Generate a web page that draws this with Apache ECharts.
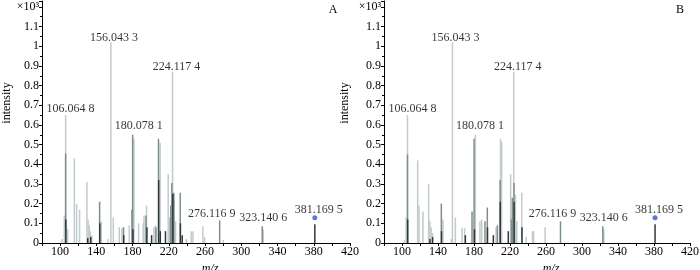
<!DOCTYPE html>
<html>
<head>
<meta charset="utf-8">
<script src="https://cdn.jsdelivr.net/npm/echarts@6/dist/echarts.min.js"></script>
<style>
  html, body { margin: 0; padding: 0; background: #fff; }
  #chart { width: 700px; height: 270px; }
</style>
</head>
<body>
<div id="chart"></div>
<script>
// peaks as [m/z, intensity (x10^3)], split by shade of grey
const lightA = [
  [102, 0.02], [104.6, 0.14], [106.1, 0.65], [108.3, 0.07], [115.7, 0.43], [118.2, 0.2],
  [121.5, 0.17], [129.6, 0.31], [130.9, 0.12], [132.2, 0.09], [133.4, 0.06], [135, 0.04],
  [145.4, 0.11], [152.8, 0.02], [156.04, 1.02], [158.7, 0.13], [165.3, 0.08], [168.2, 0.075],
  [176.3, 0.09], [181.5, 0.53], [186.6, 0.1], [191.7, 0.1], [192.6, 0.14], [195.4, 0.19],
  [203.5, 0.08], [205.2, 0.09], [210.4, 0.51], [219.3, 0.35], [224.12, 0.87], [225.5, 0.22],
  [227.4, 0.11], [239.2, 0.02], [244.7, 0.06], [246.6, 0.06], [257.6, 0.085], [259.4, 0.03],
  [280, 0.015], [324.2, 0.07]
]
const midA = [
  [106.1, 0.455], [143.6, 0.21], [170, 0.08], [179.3, 0.17], [180.08, 0.55], [194.8, 0.14],
  [205.8, 0.08], [208.6, 0.53], [221.5, 0.13], [222.2, 0.19], [223.3, 0.305], [225.5, 0.255],
  [232.6, 0.255], [276.12, 0.115], [323.14, 0.085]
]
const darkA = [
  [106.3, 0.12], [130.5, 0.025], [133.8, 0.03], [143.8, 0.1], [170.2, 0.04], [180.4, 0.07],
  [195.8, 0.08], [201, 0.04], [208.8, 0.32], [210.6, 0.06], [216.3, 0.06], [224.4, 0.25],
  [232.8, 0.1], [234.8, 0.04], [381.17, 0.095]
]

const lightB = [
  [102.6, 0.015], [104.7, 0.13], [106.1, 0.65], [117.4, 0.42], [118.9, 0.19], [123.3, 0.16],
  [129.6, 0.3], [131, 0.11], [132.4, 0.08], [134, 0.05], [145.5, 0.12], [154.8, 0.02],
  [156.04, 1.02], [159.3, 0.13], [166.7, 0.075], [169.6, 0.075], [181.5, 0.55], [186.6, 0.11],
  [188.5, 0.12], [204.5, 0.08], [209.5, 0.53], [210.7, 0.515], [220.7, 0.35], [224.12, 0.87],
  [226, 0.245], [227.5, 0.11], [233.1, 0.255], [238, 0.03], [245, 0.06], [246.2, 0.06],
  [259, 0.08], [324.2, 0.07]
]
const midB = [
  [106.1, 0.45], [143.7, 0.2], [177.8, 0.16], [180.08, 0.53], [192.2, 0.11], [194.8, 0.18],
  [206, 0.09], [209, 0.32], [221.6, 0.12], [222.6, 0.23], [224.4, 0.305], [276.12, 0.11],
  [323.14, 0.085]
]
const darkB = [
  [106.3, 0.12], [131, 0.02], [134, 0.03], [143.9, 0.06], [170.4, 0.04], [180.5, 0.07],
  [195, 0.08], [201.5, 0.04], [209.2, 0.21], [218.1, 0.06], [224.6, 0.21], [233.3, 0.08],
  [381.17, 0.095]
]

const peakNames = ['106.064 8', '156.043 3', '180.078 1', '224.117 4', '276.116 9', '323.140 6', '381.169 5']
const peakMz = [106.06, 156.04, 180.08, 224.12, 276.12, 323.14, 381.17]
const peakTop = [0.65, 1.02, 0.55, 0.87, 0.115, 0.085, 0.095]
const markedPeak = [381.17, 0.128]

const xTicks = [100, 140, 180, 220, 260, 300, 340, 380, 420]

const font = 'Liberation Serif'
const labelShift = [[5, 0], [3, 2], [6, -2], [4, 2], [-8, 0], [1, -2], [4, -8]]

const chart = echarts.init(document.getElementById('chart'))

const bars = (data, color, i) => ({
  type: 'bar', xAxisIndex: i, yAxisIndex: i, data,
  barWidth: 1.5, barGap: '-100%', itemStyle: { color }, silent: true
})

const tags = (i) => ({
  type: 'scatter', xAxisIndex: i, yAxisIndex: i, symbolSize: 1,
  itemStyle: { color: 'rgba(0,0,0,0)' }, silent: true,
  label: { show: true, position: 'top', distance: 0, formatter: '{b}', color: '#000', fontFamily: font, fontSize: 12 },
  data: peakNames.map((n, k) => ({ name: n, value: [peakMz[k], peakTop[k]], label: { offset: labelShift[k] } }))
})

const dot = (i) => ({
  type: 'scatter', xAxisIndex: i, yAxisIndex: i, symbolSize: 5, silent: true,
  itemStyle: { color: '#2f55d4' }, data: [markedPeak], z: 5
})

const xAxis = (i) => ({
  type: 'value', gridIndex: i, min: 80, max: 420, interval: 20,
  name: 'm/z', nameLocation: 'middle', nameGap: 16,
  nameTextStyle: { fontFamily: font, fontStyle: 'italic', fontSize: 12, color: '#000', padding: [0, 0, 0, 28] },
  axisLine: { lineStyle: { color: '#000' } },
  axisTick: { length: 3, lineStyle: { color: '#000' } },
  splitLine: { show: false },
  axisLabel: {
    margin: 3, fontFamily: font, fontSize: 12, color: '#000',
    formatter: v => xTicks.includes(v) ? String(v) : ''
  }
})

const yAxis = (i) => ({
  type: 'value', gridIndex: i, min: 0, max: 1.23, interval: 0.1,
  axisLine: { show: true, lineStyle: { color: '#000' } },
  axisTick: { show: true, length: 3, lineStyle: { color: '#000' } },
  minorTick: { show: true, splitNumber: 2, length: 2, lineStyle: { color: '#000' } },
  splitLine: { show: false },
  axisLabel: {
    margin: 3, fontFamily: font, fontSize: 12, color: '#000',
    formatter: v => {
      if (v > 1.21) return ''
      if (v > 1.19) return '×10³'
      return String(Math.round(v * 10) / 10)
    }
  }
})

const text = (x, y, s, rot) => ({
  type: 'text', x, y, rotation: rot || 0,
  style: { text: s, fontFamily: font, fontSize: 12, fill: '#000', align: 'center', verticalAlign: 'middle' }
})

chart.setOption({
  animation: false,
  grid: [
    { left: 42, right: 350, top: 1, bottom: 27, outerBoundsMode: 'none' },
    { left: 384, right: 10, top: 1, bottom: 27, outerBoundsMode: 'none' }
  ],
  xAxis: [xAxis(0), xAxis(1)],
  yAxis: [yAxis(0), yAxis(1)],
  graphic: [
    text(7, 103, 'intensity', Math.PI / 2),
    text(345, 103, 'intensity', Math.PI / 2),
    text(333, 10, 'A'),
    text(680, 10, 'B')
  ],
  series: [
    bars(lightA, '#c2cbcb', 0), bars(midA, '#7e8e8e', 0), bars(darkA, '#2f3939', 0),
    tags(0), dot(0),
    bars(lightB, '#c2cbcb', 1), bars(midB, '#7e8e8e', 1), bars(darkB, '#2f3939', 1),
    tags(1), dot(1)
  ]
})
</script>
</body>
</html>
